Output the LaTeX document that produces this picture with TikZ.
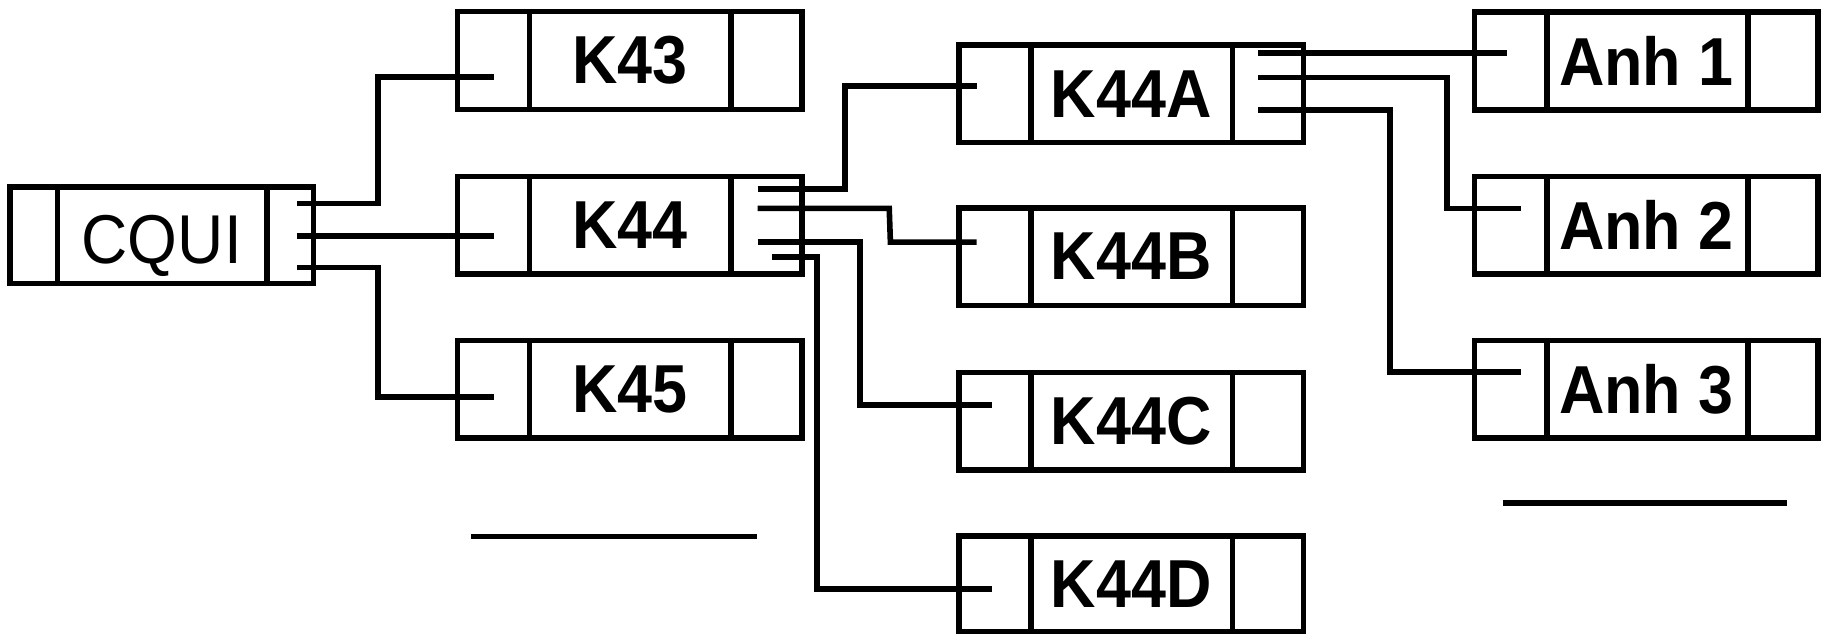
\documentclass[tikz,border=0pt]{standalone}
\usepackage{graphicx}
\usepackage{fontspec}
\setmainfont{Liberation Sans}
\newcommand{\blkdiv}[3]{%
  \draw[lw] ([xshift=#2]#1.north west) -- ([xshift=#2]#1.south west);
  \draw[lw] ([xshift=-#3]#1.north east) -- ([xshift=-#3]#1.south east);}
\newcommand{\tall}[1]{\scalebox{1}[1.08]{#1}}
\begin{document}
\begin{tikzpicture}[x=1pt,y=-1pt,
  lw/.style={line width=4.8pt},
  blk/.style={draw, lw, rectangle, inner sep=0pt, outer sep=0pt,
    minimum width=296pt, minimum height=84pt,
    font=\fontsize{54pt}{60pt}\selectfont\bfseries},
  wire/.style={lw, line cap=butt, line join=miter}]
\useasboundingbox (0,0) rectangle (1568,546);

% blocks
\node[blk, minimum width=261pt, minimum height=83pt, text height=49.6pt, text depth=0pt,
      font=\fontsize{55pt}{60pt}\selectfont] (CQUI) at (139,202) {\tall{CQUI}};
\node[blk] (K43) at (541,52) {\tall{K43}};
\node[blk] (K44) at (541,193.5) {\tall{K44}};
\node[blk] (K45) at (541,334.5) {\tall{K45}};
\node[blk] (K44A) at (972,80.5) {\tall{K44A}};
\node[blk] (K44B) at (972,220.5) {\tall{K44B}};
\node[blk] (K44C) at (972,362) {\tall{K44C}};
\node[blk, minimum height=82pt] (K44D) at (972,501.5) {\tall{K44D}};
\node[blk, minimum width=295pt] (Anh1) at (1414.5,52.5) {\tall{Anh 1}};
\node[blk, minimum width=295pt] (Anh2) at (1414.5,193.5) {\tall{Anh 2}};
\node[blk, minimum width=295pt] (Anh3) at (1414.5,334.5) {\tall{Anh 3}};

\blkdiv{CQUI}{41pt}{40pt}
\foreach \n in {K43,K44,K45,K44A,K44B,K44C,K44D}{\blkdiv{\n}{62pt}{61pt}}
\foreach \n in {Anh1,Anh2,Anh3}{\blkdiv{\n}{62pt}{60pt}}

% stub / entry points
\coordinate (cq1) at (255,175);
\coordinate (cq2) at (255,203);
\coordinate (cq3) at (255,230);
\coordinate (k43in) at (424,66);
\coordinate (k44in) at (424,203);
\coordinate (k45in) at (424,341);
\coordinate (k1) at (651,162.5);
\coordinate (k2) at (651,179);
\coordinate (k3) at (651,208);
\coordinate (k4) at (663,221);
\coordinate (k44ain) at (839,74);
\coordinate (k44bin) at (839,208);
\coordinate (k44cin) at (852,348);
\coordinate (k44din) at (852,506);
\coordinate (a1) at (1081,45.5);
\coordinate (a2) at (1081,66.5);
\coordinate (a3) at (1081,94.5);
\coordinate (anh1in) at (1295,45.5);
\coordinate (anh2in) at (1307,179);
\coordinate (anh3in) at (1307,319.5);

% connectors
\draw[wire] (cq1) -- (325,175) |- (k43in);
\draw[wire] (cq2) -- (k44in);
\draw[wire] (cq3) -- (325,230) |- (k45in);

\draw[wire] (k1) -- (726,162.5) |- (k44ain);
\draw[wire] (k2) -- (764,179) -- (765,208) -- (k44bin);
\draw[wire] (k3) -- (739,208) |- (k44cin);
\draw[wire] (k4) -- (702,221) |- (k44din);

\draw[wire] (a1) -- (anh1in);
\draw[wire] (a2) -- (1243,66.5) |- (anh2in);
\draw[wire] (a3) -- (1194,94.5) |- (anh3in);

% placeholder lines
\draw[line width=5pt] (405,461) -- (650,461);
\draw[line width=5pt] (1291,432) -- (1535,432);
\end{tikzpicture}
\end{document}
